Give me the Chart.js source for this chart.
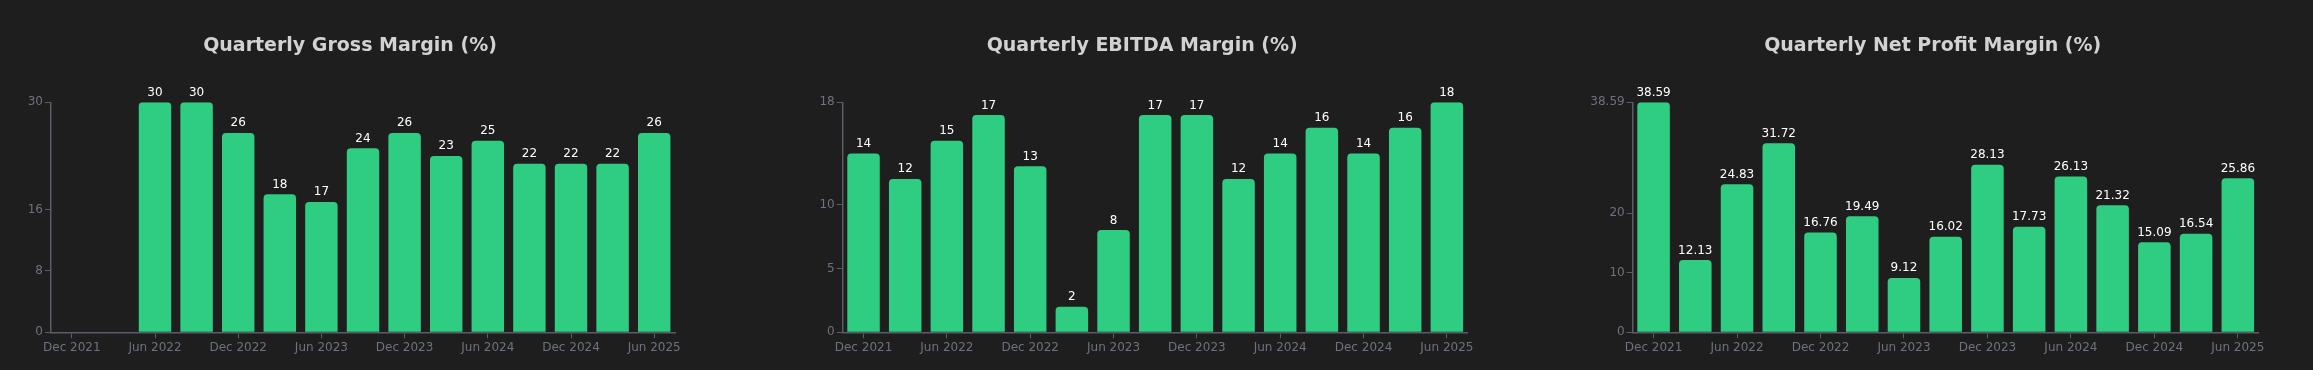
<!DOCTYPE html>
<html lang="en">

<head>
    <meta charset="UTF-8">
    <meta name="viewport" content="width=device-width, initial-scale=1.0">
    <title>Quarterly Margins</title>
    <script src="https://cdn.jsdelivr.net/npm/chart.js"></script>
    <style>
        body {
            margin: 0;
            background-color: #1e1e1e;
            font-family: 'DejaVu Sans', sans-serif;
        }

        .row {
            display: flex;
            width: 2313px;
            height: 370px;
        }

        .panel {
            width: 771px;
            height: 370px;
        }
    </style>
</head>

<body>
    <div class="row">
        <div class="panel"><canvas id="grossChart" width="771" height="370"></canvas></div>
        <div class="panel"><canvas id="ebitdaChart" width="771" height="370"></canvas></div>
        <div class="panel"><canvas id="netChart" width="771" height="370"></canvas></div>
    </div>

    <script>
        // quarter ends, Dec 2021 .. Jun 2025
        const quarters = ['Dec 2021', 'Mar 2022', 'Jun 2022', 'Sep 2022', 'Dec 2022', 'Mar 2023', 'Jun 2023',
            'Sep 2023', 'Dec 2023', 'Mar 2024', 'Jun 2024', 'Sep 2024', 'Dec 2024', 'Mar 2025', 'Jun 2025'];

        const grossMargin = [null, null, 30, 30, 26, 18, 17, 24, 26, 23, 25, 22, 22, 22, 26];
        const ebitdaMargin = [14, 12, 15, 17, 13, 2, 8, 17, 17, 12, 14, 16, 14, 16, 18];
        const netMargin = [38.59, 12.13, 24.83, 31.72, 16.76, 19.49, 9.12, 16.02, 28.13, 17.73, 26.13, 21.32, 15.09, 16.54, 25.86];

        const grossTicks = [0, 8, 16, 30];
        const ebitdaTicks = [0, 5, 10, 18];
        const netTicks = [0, 10, 20, 38.59];

        const barColor = '#2fcd82';
        const axisColor = '#5a5d66';
        const tickTextColor = '#6e7280';

        Chart.defaults.font.family = "'DejaVu Sans', sans-serif";

        // value labels above each bar
        const valueLabels = {
            id: 'valueLabels',
            afterDatasetsDraw(chart) {
                const ctx = chart.ctx;
                const meta = chart.getDatasetMeta(0);
                const data = chart.data.datasets[0].data;
                ctx.save();
                ctx.fillStyle = '#ffffff';
                ctx.font = "12px 'DejaVu Sans'";
                ctx.textAlign = 'center';
                ctx.textBaseline = 'alphabetic';
                meta.data.forEach((bar, i) => {
                    if (data[i] === null) return;
                    ctx.fillText(String(data[i]), bar.x, bar.y - 6.5);
                });
                ctx.restore();
            }
        };

        function makeChart(id, title, values, yTicks, padLeft, padRight) {
            const ctx = document.getElementById(id).getContext('2d');
            new Chart(ctx, {
                type: 'bar',
                data: {
                    labels: quarters,
                    datasets: [{
                        label: title,
                        data: values,
                        backgroundColor: barColor,
                        borderRadius: 4,
                        borderSkipped: 'start',
                        barPercentage: 0.78,
                        categoryPercentage: 1
                    }]
                },
                options: {
                    responsive: false,
                    animation: false,
                    layout: {
                        padding: { top: 35, bottom: 13.7, left: padLeft, right: padRight }
                    },
                    plugins: {
                        legend: { display: false },
                        tooltip: { enabled: false },
                        title: {
                            display: true,
                            text: title,
                            color: '#d2d2d2',
                            font: { size: 19, weight: 'bold' },
                            padding: { top: 0, bottom: 44.5 }
                        }
                    },
                    scales: {
                        x: {
                            offset: true,
                            grid: {
                                offset: false,
                                drawOnChartArea: false,
                                tickLength: 6,
                                tickColor: axisColor
                            },
                            border: { color: axisColor, width: 1.5 },
                            ticks: {
                                color: tickTextColor,
                                font: { size: 12 },
                                padding: 2,
                                autoSkip: false,
                                maxRotation: 0,
                                callback: function (value, index) {
                                    return index % 2 === 0 ? this.getLabelForValue(value) : null;
                                }
                            },
                            afterFit: function (scale) {
                                scale.height = 24;
                            }
                        },
                        y: {
                            min: 0,
                            max: yTicks[yTicks.length - 1],
                            grid: {
                                drawOnChartArea: false,
                                tickLength: 6,
                                tickColor: axisColor
                            },
                            border: { color: axisColor, width: 1.5 },
                            ticks: {
                                color: tickTextColor,
                                font: { size: 12 },
                                padding: 2,
                                callback: function (value) {
                                    return String(value);
                                }
                            },
                            afterBuildTicks: function (scale) {
                                scale.ticks = yTicks.map(v => ({ value: v }));
                            },
                            afterFit: function (scale) {
                                scale.width = 26;
                                // let wide labels like 38.59 spill into the padding
                                scale._computeLabelArea = () => null;
                            }
                        }
                    }
                },
                plugins: [valueLabels]
            });
        }

        makeChart('grossChart', 'Quarterly Gross Margin (%)', grossMargin, grossTicks, 25, 96);
        makeChart('ebitdaChart', 'Quarterly EBITDA Margin (%)', ebitdaMargin, ebitdaTicks, 45.7, 74.3);
        makeChart('netChart', 'Quarterly Net Profit Margin (%)', netMargin, netTicks, 64.7, 54.3);
    </script>
</body>

</html>
